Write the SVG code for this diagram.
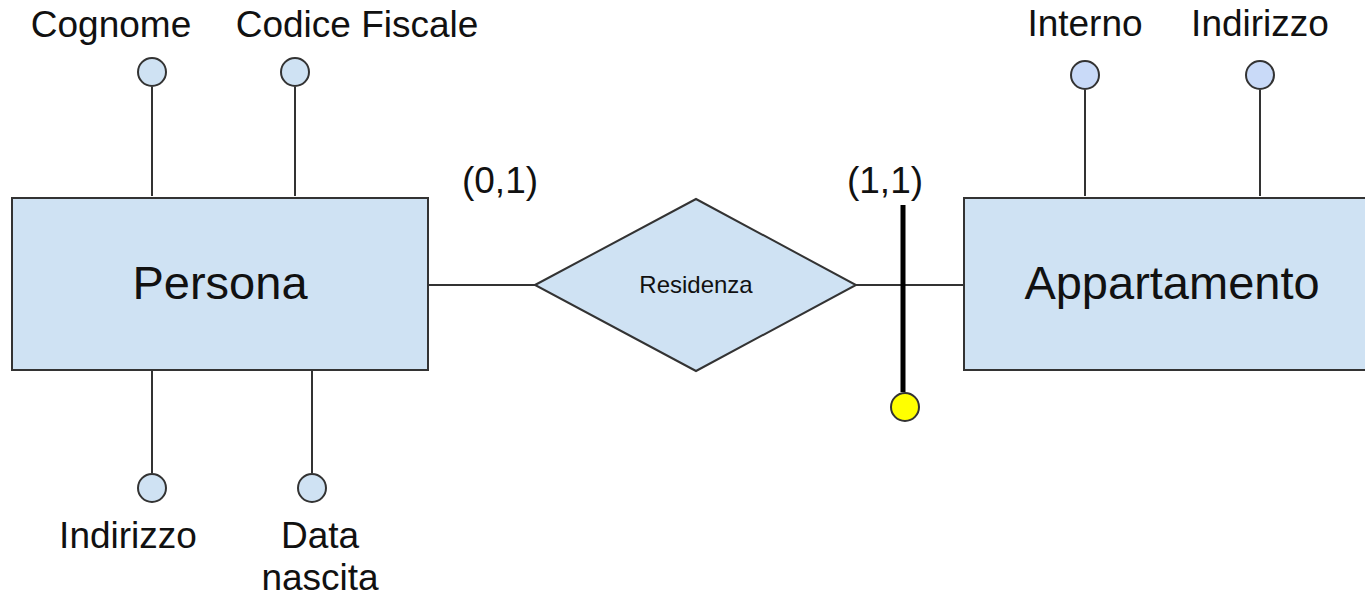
<svg xmlns="http://www.w3.org/2000/svg" width="1365" height="597" viewBox="0 0 1365 597">
<style>
.ent{fill:#cfe2f3;stroke:#333;stroke-width:2}
.rel{fill:#cfe2f3;stroke:#333;stroke-width:2}
.att{fill:#cfe2f3;stroke:#333;stroke-width:2}
.att2{fill:#c9daf8;stroke:#333;stroke-width:2}
.ln{stroke:#333;stroke-width:2;fill:none}
text{font-family:"Liberation Sans",Arial,sans-serif;fill:#111;text-anchor:middle}
.lbl{font-size:37px}
.big{font-size:47px}
.sm{font-size:24px}
</style>
<rect width="1365" height="597" fill="#fff"/>
<g id="connectors">
<line class="ln" x1="152" y1="87" x2="152" y2="196"/>
<line class="ln" x1="295" y1="87" x2="295" y2="196"/>
<line class="ln" x1="152" y1="370" x2="152" y2="473"/>
<line class="ln" x1="312" y1="370" x2="312" y2="473"/>
<line class="ln" x1="1085" y1="90" x2="1085" y2="196"/>
<line class="ln" x1="1260" y1="90" x2="1260" y2="196"/>
<line class="ln" x1="428" y1="285" x2="535" y2="285"/>
<line class="ln" x1="856" y1="285" x2="964" y2="285"/>
<line x1="903" y1="205" x2="903" y2="392" stroke="#000" stroke-width="5"/>
</g>
<g id="persona">
<rect class="ent" x="12" y="198" width="416" height="172"/>
<text class="big" x="220" y="299">Persona</text>
</g>
<g id="appartamento">
<rect class="ent" x="964" y="198" width="416" height="172"/>
<text class="big" x="1172" y="299">Appartamento</text>
</g>
<g id="residenza">
<polygon class="rel" points="535,285 696,199 856,285 696,371"/>
<text class="sm" x="696" y="293">Residenza</text>
</g>
<g id="attr-cognome">
<circle class="att" cx="152" cy="72" r="14"/>
<text class="lbl" x="111" y="37">Cognome</text>
</g>
<g id="attr-codice-fiscale">
<circle class="att" cx="295" cy="72" r="14"/>
<text class="lbl" x="357" y="37">Codice Fiscale</text>
</g>
<g id="attr-indirizzo-persona">
<circle class="att" cx="152" cy="488" r="14"/>
<text class="lbl" x="128" y="548">Indirizzo</text>
</g>
<g id="attr-data-nascita">
<circle class="att" cx="312" cy="488" r="14"/>
<text class="lbl" x="320" y="548">Data</text>
<text class="lbl" x="320" y="590">nascita</text>
</g>
<g id="attr-interno">
<circle class="att2" cx="1085" cy="75" r="14"/>
<text class="lbl" x="1085" y="36">Interno</text>
</g>
<g id="attr-indirizzo-app">
<circle class="att2" cx="1260" cy="75" r="14"/>
<text class="lbl" x="1260" y="36">Indirizzo</text>
</g>
<g id="identifier">
<circle cx="905" cy="407" r="14" fill="#ffff00" stroke="#333" stroke-width="2"/>
</g>
<g id="cardinalities">
<text class="lbl" x="500" y="193">(0,1)</text>
<text class="lbl" x="885" y="193">(1,1)</text>
</g>
</svg>
